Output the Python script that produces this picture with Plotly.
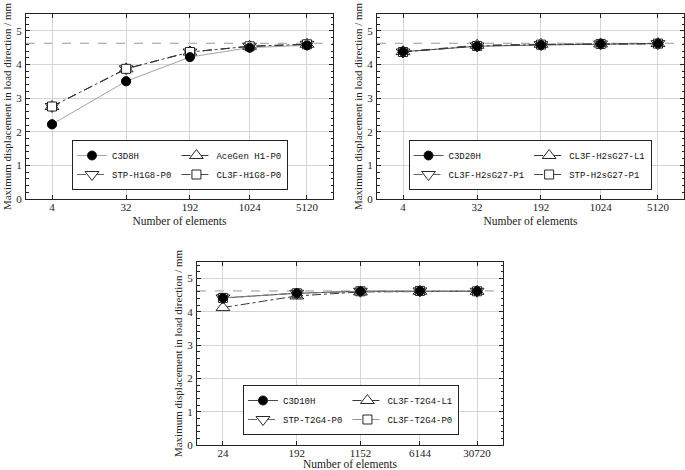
import math
import plotly.graph_objects as go

# ---------------- data ----------------
x1_vals = [4, 32, 192, 1024, 5120]
x1_text = ["4", "32", "192", "1024", "5120"]
c3d8h = [2.22, 3.50, 4.22, 4.50, 4.57]
acegen_h1_p0 = [2.75, 3.87, 4.37, 4.54, 4.60]
stp_h1g8_p0 = [2.75, 3.87, 4.37, 4.54, 4.60]
cl3f_h1g8_p0 = [2.75, 3.87, 4.37, 4.54, 4.60]

x2_vals = [4, 32, 192, 1024, 5120]
x2_text = ["4", "32", "192", "1024", "5120"]
c3d20h = [4.38, 4.54, 4.58, 4.61, 4.62]
cl3f_h2sg27_l1 = [4.38, 4.57, 4.60, 4.61, 4.62]
cl3f_h2sg27_p1 = [4.37, 4.55, 4.59, 4.61, 4.62]
stp_h2sg27_p1 = [4.37, 4.55, 4.59, 4.61, 4.62]

x3_vals = [24, 192, 1152, 6144, 30720]
x3_text = ["24", "192", "1152", "6144", "30720"]
c3d10h = [4.42, 4.56, 4.62, 4.63, 4.62]
cl3f_t2g4_l1 = [4.13, 4.48, 4.60, 4.62, 4.62]
stp_t2g4_p0 = [4.42, 4.56, 4.62, 4.63, 4.62]
cl3f_t2g4_p0 = [4.42, 4.56, 4.62, 4.63, 4.62]

reference_value = 4.63
y_ticks = [0, 1, 2, 3, 4, 5]

# ---------------- style ----------------
SERIF = "Liberation Serif, DejaVu Serif, serif"
MONO = "Liberation Mono, DejaVu Sans Mono, monospace"
INK = "#222222"

fig = go.Figure()

def add_panel(idx, xv, series, legend_name):
    xa = "x" if idx == 1 else f"x{idx}"
    ya = "y" if idx == 1 else f"y{idx}"
    for name, vals, sym, fill, dash, col, grp, size in series:
        fig.add_trace(go.Scatter(
            x=xv, y=vals, name=name, xaxis=xa, yaxis=ya,
            mode="lines+markers", legend=legend_name, legendgroup=f"{legend_name}{grp}",
            line=dict(color=col, width=0.9, dash=dash),
            marker=dict(symbol=sym, size=size, color=fill,
                        line=dict(color="#111", width=0.9)),
        ))
    # circles drawn again on top
    name, vals, sym, fill, dash, col, grp, size = series[0]
    fig.add_trace(go.Scatter(
        x=xv, y=vals, xaxis=xa, yaxis=ya, mode="markers", showlegend=False,
        legend=legend_name, hoverinfo="skip",
        marker=dict(symbol=sym, size=size, color=fill, line=dict(color="#111", width=0.9)),
    ))

add_panel(1, x1_vals, [
    ("C3D8H", c3d8h, "circle", "#000", "solid", "#999", "a", 9),
    ("AceGen H1-P0", acegen_h1_p0, "triangle-up", "white", "dash", "#222", "b", 12),
    ("STP-H1G8-P0", stp_h1g8_p0, "triangle-down", "white", "dash", "#555", "a", 12),
    ("CL3F-H1G8-P0", cl3f_h1g8_p0, "square", "white", "dashdot", "#333", "b", 9),
], "legend")

add_panel(2, x2_vals, [
    ("C3D20H", c3d20h, "circle", "#000", "solid", "#444", "a", 9),
    ("CL3F-H2sG27-L1", cl3f_h2sg27_l1, "triangle-up", "white", "dash", "#222", "b", 12),
    ("CL3F-H2sG27-P1", cl3f_h2sg27_p1, "triangle-down", "white", "dash", "#555", "a", 12),
    ("STP-H2sG27-P1", stp_h2sg27_p1, "square", "white", "dashdot", "#333", "b", 9),
], "legend2")

add_panel(3, x3_vals, [
    ("C3D10H", c3d10h, "circle", "#000", "solid", "#333", "a", 9),
    ("CL3F-T2G4-L1", cl3f_t2g4_l1, "triangle-up", "white", "dashdot", "#222", "b", 12),
    ("STP-T2G4-P0", stp_t2g4_p0, "triangle-down", "white", "dash", "#555", "a", 12),
    ("CL3F-T2G4-P0", cl3f_t2g4_p0, "square", "white", "dashdot", "#888", "b", 9),
], "legend3")

W, H = 685, 470
def px_dom(a, b, total):
    return [a / total, b / total]

def ydom(top, bottom):
    return [1 - bottom / H, 1 - top / H]

PAD = 0.317

def xaxis_cfg(xv, xt, dom, anchor):
    lo = math.log10(xv[0]) - PAD
    hi = math.log10(xv[-1]) + PAD
    return dict(
        type="log", domain=dom, anchor=anchor, range=[lo, hi], automargin=False,
        tickvals=xv, ticktext=xt, ticks="inside", ticklen=4, tickcolor=INK,
        showline=True, linecolor=INK, linewidth=1, mirror="allticks",
        showgrid=True, gridcolor="#d4d4d4", gridwidth=1, zeroline=False,
        ticklabelstandoff=-2,
        tickfont=dict(family=SERIF, size=11, color=INK),
        title=dict(text="Number of elements", font=dict(family=SERIF, size=11.5, color=INK), standoff=4),
    )

def yaxis_cfg(dom, anchor):
    return dict(
        domain=dom, anchor=anchor, range=[0, 5.5], tickvals=y_ticks, automargin=False,
        ticks="inside", ticklen=4, tickcolor=INK,
        showline=True, linecolor=INK, linewidth=1, mirror="allticks",
        showgrid=True, gridcolor="#d4d4d4", gridwidth=1, zeroline=False,
        minor=dict(dtick=0.2, ticks="inside", ticklen=2.5, tickcolor=INK, showgrid=False),
        ticklabelstandoff=1,
        tickfont=dict(family=SERIF, size=11, color=INK),
        title=dict(text="Maximum displacement in load direction / mm",
                   font=dict(family=SERIF, size=11, color=INK), standoff=2),
    )

legend_common = dict(
    orientation="h", traceorder="grouped", tracegroupgap=0,
    bgcolor="white", bordercolor="#222", borderwidth=1,
    font=dict(family=MONO, size=9, color="#111"),
    xanchor="center", yanchor="bottom", itemwidth=30,
)

fig.update_layout(
    width=W, height=H, margin=dict(l=0, r=0, t=0, b=0, autoexpand=False),
    paper_bgcolor="white", plot_bgcolor="white",
    xaxis=xaxis_cfg(x1_vals, x1_text, px_dom(26, 333, W), "y"),
    yaxis=yaxis_cfg(ydom(14, 199), "x"),
    xaxis2=xaxis_cfg(x2_vals, x2_text, px_dom(377, 684, W), "y2"),
    yaxis2=yaxis_cfg(ydom(14, 199), "x2"),
    xaxis3=xaxis_cfg(x3_vals, x3_text, px_dom(197, 503, W), "y3"),
    yaxis3=yaxis_cfg(ydom(262, 445), "x3"),
    legend=dict(legend_common, x=180 / W, y=1 - 190 / H),
    legend2=dict(legend_common, x=530 / W, y=1 - 190 / H),
    legend3=dict(legend_common, x=351 / W, y=1 - 435 / H),
    showlegend=True,
)

for ya, xa in (("y", "x"), ("y2", "x2"), ("y3", "x3")):
    fig.add_shape(type="line", xref=f"{xa} domain", x0=0, x1=1, yref=ya,
                  y0=reference_value, y1=reference_value,
                  line=dict(color="#999", width=1, dash="dash"), layer="below")

fig.write_html("out.html", config={"displayModeBar": False},
               post_script="document.body.style.margin='0';document.body.style.overflow='hidden';")
